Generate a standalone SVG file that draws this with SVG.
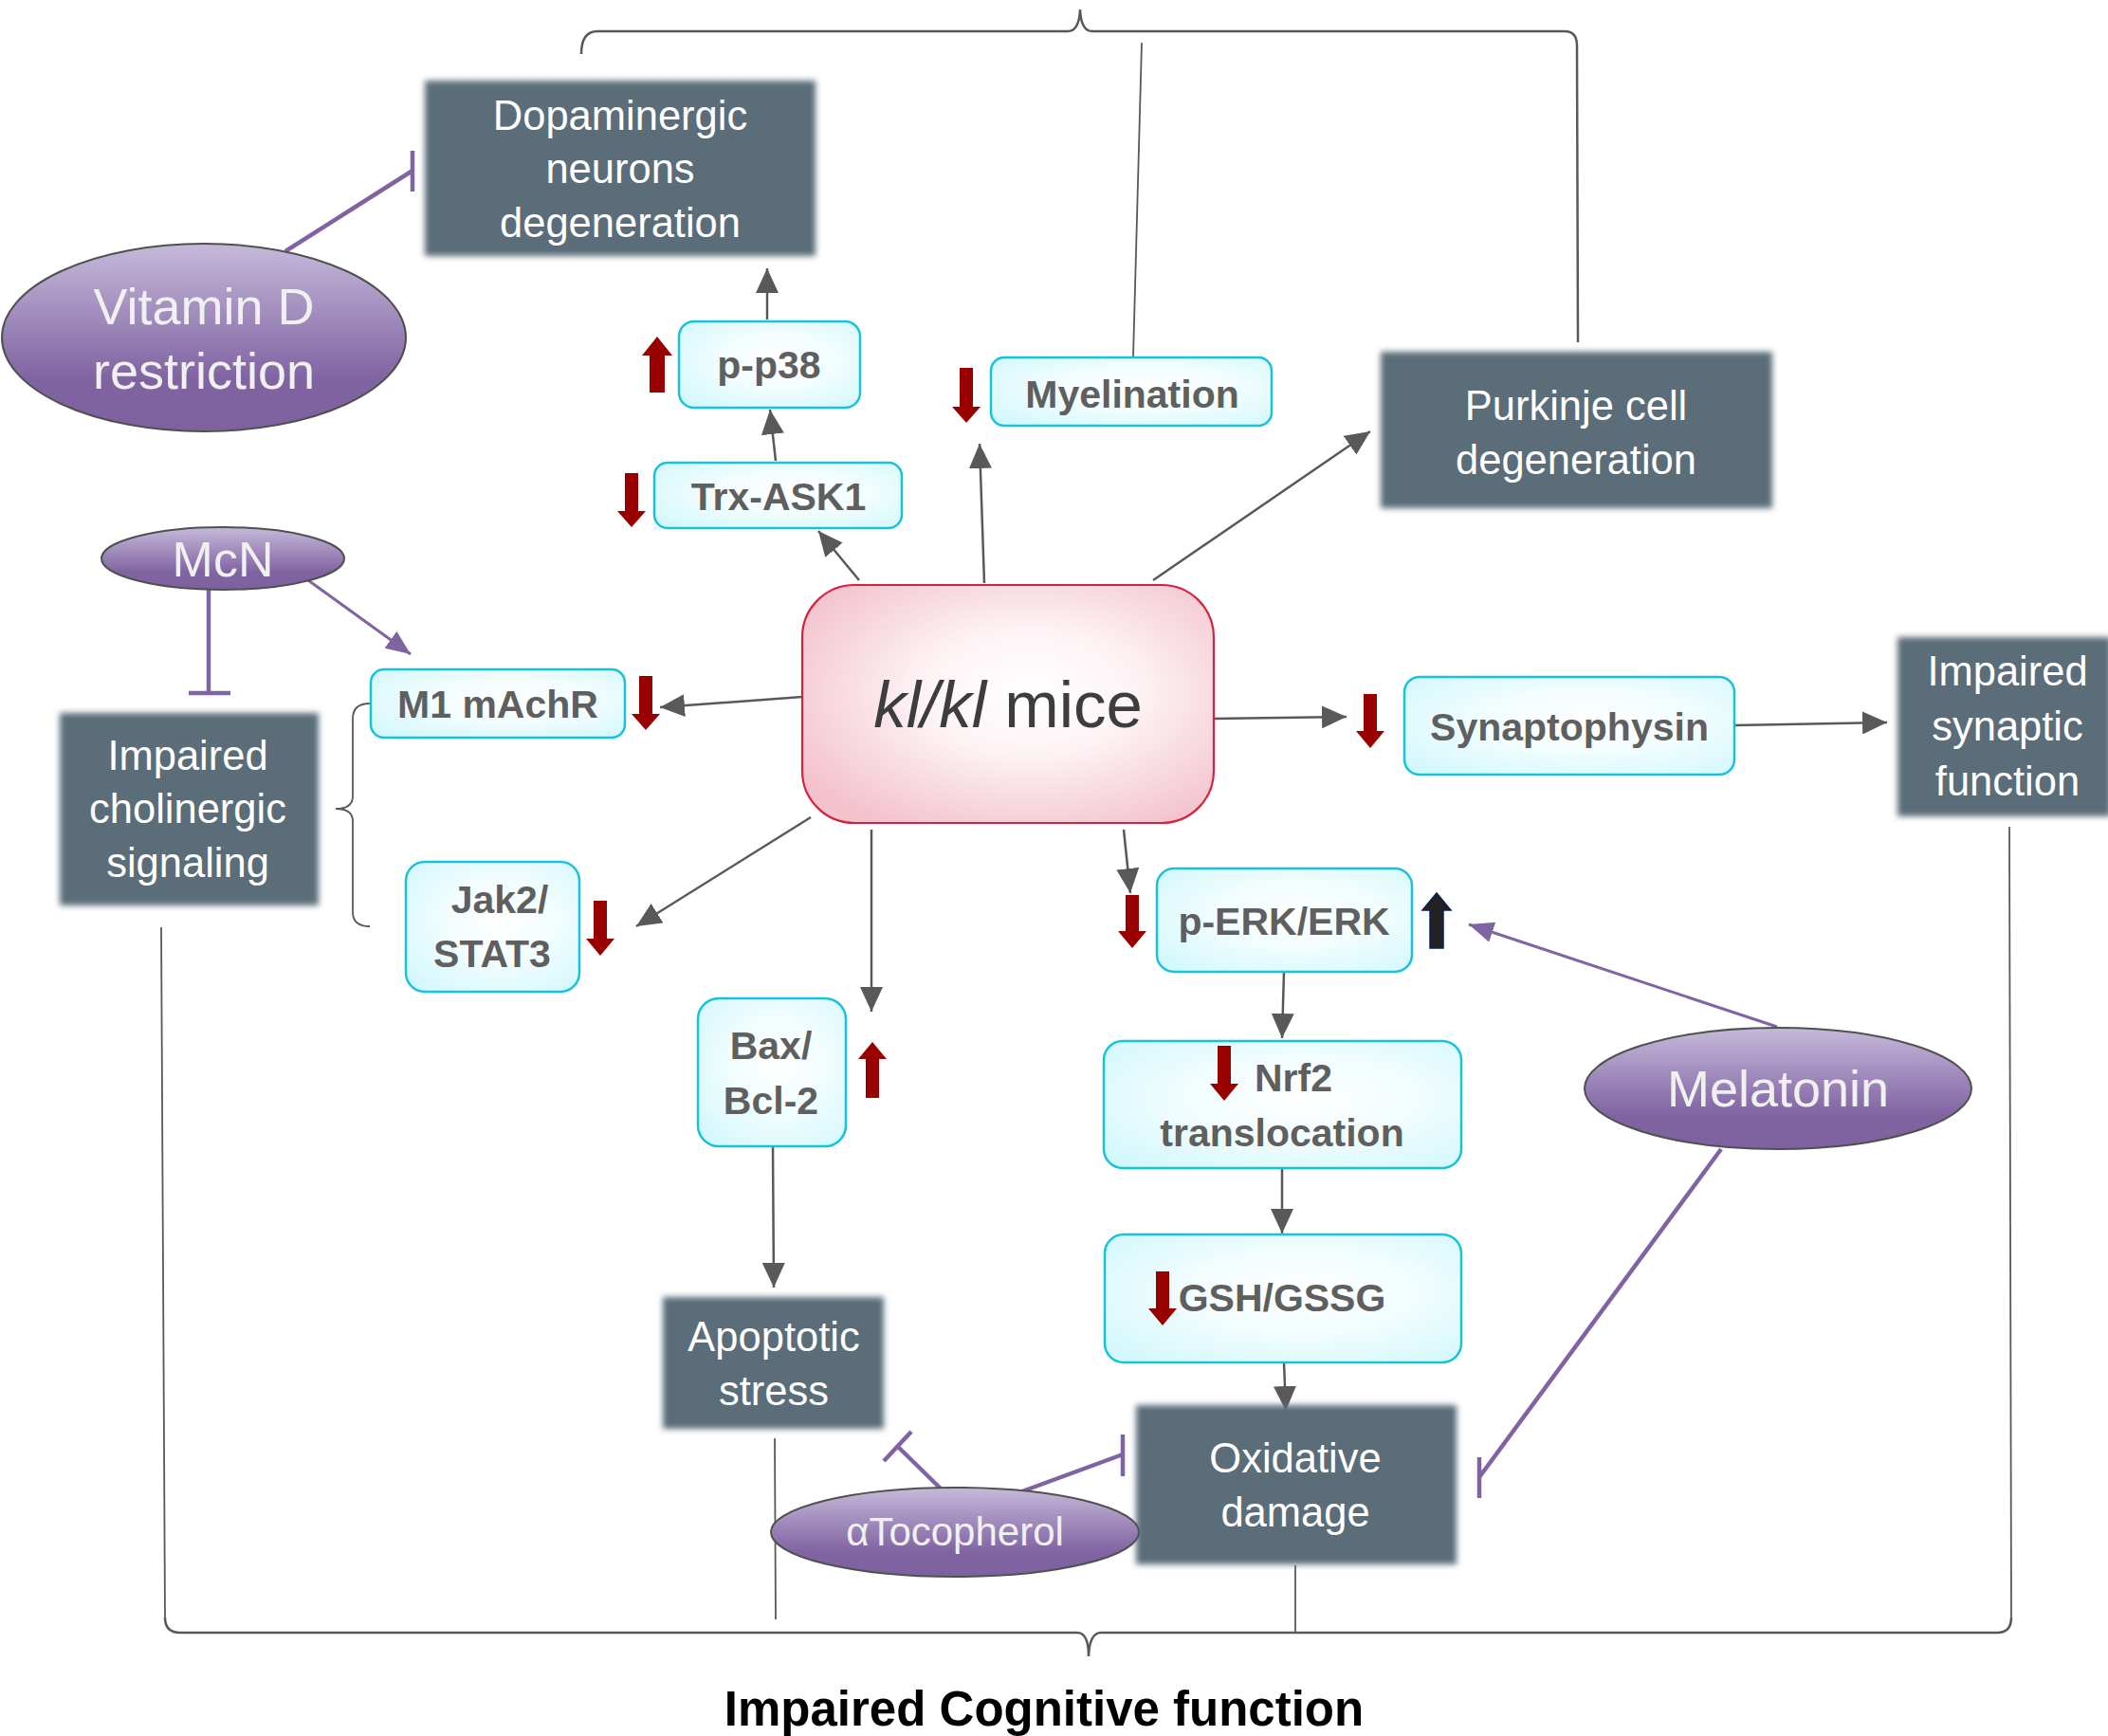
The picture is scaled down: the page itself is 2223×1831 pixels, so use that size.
<svg xmlns="http://www.w3.org/2000/svg" width="2223" height="1831" viewBox="0 0 2223 1831">
<defs>
<style>
.dark{fill:#5a6d79;filter:url(#soft)}
.dt{font-family:"Liberation Sans",Arial,sans-serif;font-size:43.5px;fill:#ffffff;text-anchor:middle}
.cy{fill:url(#cyg);stroke:#16c4da;stroke-width:2.5}
.ct{font-family:"Liberation Sans",Arial,sans-serif;font-weight:bold;font-size:41px;fill:#5f5f5f;text-anchor:middle}
.el{fill:url(#pug);stroke:#505050;stroke-width:2}
.et{font-family:"Liberation Sans",Arial,sans-serif;fill:#f0f0f0;text-anchor:middle}
.con{stroke:#595959;stroke-width:2.5;fill:none;marker-end:url(#ah)}
.br{stroke:#595959;fill:none}
.pa{stroke:#8064a2;stroke-width:3;fill:none;marker-end:url(#ph)}
.pi{stroke:#8064a2;stroke-width:4.5;fill:none}
.red{fill:#990000}
</style>
<filter id="soft" x="-5%" y="-5%" width="110%" height="110%"><feGaussianBlur stdDeviation="3"/></filter>
<radialGradient id="cyg" cx="0.55" cy="0.45" r="0.7"><stop offset="0" stop-color="#ffffff"/><stop offset="0.45" stop-color="#f2fdfe"/><stop offset="1" stop-color="#d3f8fc"/></radialGradient>
<radialGradient id="pkg" cx="0.55" cy="0.45" r="0.65"><stop offset="0" stop-color="#ffffff"/><stop offset="0.4" stop-color="#fdf3f5"/><stop offset="1" stop-color="#f3c2cd"/></radialGradient>
<linearGradient id="pug" x1="0" y1="0" x2="0" y2="1"><stop offset="0" stop-color="#c6b9da"/><stop offset="0.72" stop-color="#8064a2"/><stop offset="1" stop-color="#7e62a0"/></linearGradient>
<marker id="ah" viewBox="0 0 26 24" refX="26" refY="12" markerWidth="26" markerHeight="24" orient="auto" markerUnits="userSpaceOnUse"><path d="M0,0 L26,12 L0,24 Z" fill="#595959"/></marker>
<marker id="ph" viewBox="0 0 26 22" refX="26" refY="11" markerWidth="26" markerHeight="22" orient="auto" markerUnits="userSpaceOnUse"><path d="M0,0 L26,11 L0,22 Z" fill="#8064a2"/></marker>
</defs>
<rect width="2223" height="1831" fill="#ffffff"/>

<g id="connectors">
<path class="br" stroke-width="2.5" d="M613,57 Q613,33 630,33 H1126 Q1138,33 1139,10 Q1140,33 1152,33 H1650 Q1663,33 1663,48 L1664,361"/>
<path class="br" stroke-width="1.8" d="M1195,377 L1204,45"/>
<path class="br" stroke-width="1.8" d="M390,742 Q372,742 372,758 V840 Q372,853 354,853 Q372,853 372,866 V962 Q372,977 390,977"/>
<path class="br" stroke-width="1.8" d="M170,978 L174,1706"/>
<path class="br" stroke-width="2.5" d="M174,1706 Q174,1722 190,1722 H1136 Q1148,1722 1148,1747 Q1149,1722 1161,1722 H2106 Q2121,1722 2121,1706"/>
<path class="br" stroke-width="1.8" d="M2121,1706 L2119,872"/>
<path class="br" stroke-width="1.8" d="M817,1517 L818,1708"/>
<path class="br" stroke-width="1.8" d="M1366,1651 L1366,1722"/>

<line class="con" x1="809" y1="337" x2="809" y2="283"/>
<line class="con" x1="818" y1="486" x2="812" y2="432"/>
<line class="con" x1="906" y1="612" x2="863" y2="560"/>
<line class="con" x1="1038" y1="615" x2="1033" y2="468"/>
<line class="con" x1="1216" y1="612" x2="1445" y2="455"/>
<line class="con" x1="846" y1="735" x2="696" y2="746"/>
<line class="con" x1="855" y1="862" x2="671" y2="977"/>
<line class="con" x1="919" y1="875" x2="919" y2="1067"/>
<line class="con" x1="815" y1="1209" x2="816" y2="1358"/>
<line class="con" x1="1280" y1="758" x2="1420" y2="756"/>
<line class="con" x1="1829" y1="765" x2="1990" y2="762"/>
<line class="con" x1="1185" y1="875" x2="1192" y2="942"/>
<line class="con" x1="1354" y1="1025" x2="1352" y2="1095"/>
<line class="con" x1="1352" y1="1232" x2="1352" y2="1301"/>
<line class="con" x1="1354" y1="1437" x2="1356" y2="1488"/>

<line class="pa" x1="325" y1="612" x2="433" y2="690"/>
<line class="pa" x1="1874" y1="1083" x2="1549" y2="975"/>
<line class="pi" x1="301" y1="265" x2="435" y2="180"/>
<line class="pi" x1="435" y1="159" x2="435" y2="202"/>
<line class="pi" x1="220" y1="622" x2="220" y2="731"/>
<line class="pi" x1="199" y1="731" x2="243" y2="731"/>
<line class="pi" stroke-width="3.5" x1="1815" y1="1212" x2="1560" y2="1558"/>
<line class="pi" stroke-width="3.5" x1="1560" y1="1537" x2="1560" y2="1580"/>
<line class="pi" x1="993" y1="1571" x2="947" y2="1526"/>
<line class="pi" x1="961" y1="1510" x2="932" y2="1541"/>
<line class="pi" x1="1078" y1="1573" x2="1184" y2="1534"/>
<line class="pi" x1="1184" y1="1513" x2="1184" y2="1557"/>
</g>

<g id="dopaminergic">
<rect class="dark" x="448" y="85" width="412" height="185"/>
<text class="dt" x="654" y="137">Dopaminergic</text>
<text class="dt" x="654" y="193">neurons</text>
<text class="dt" x="654" y="250">degeneration</text>
</g>

<g id="vitamin-d">
<ellipse class="el" cx="215" cy="356" rx="213" ry="99"/>
<text class="et" font-size="54" x="215" y="342">Vitamin D</text>
<text class="et" font-size="54" x="215" y="410">restriction</text>
</g>

<g id="p-p38">
<rect class="cy" x="716" y="339" width="191" height="91" rx="16"/>
<text class="ct" x="811" y="399">p-p38</text>
<path class="red" d="M685,414 V375 H677 L693,355 L709,375 H701 V414 Z"/>
</g>

<g id="trx-ask1">
<rect class="cy" x="690" y="488" width="261" height="69" rx="14"/>
<text class="ct" x="821" y="538">Trx-ASK1</text>
<path class="red" d="M659,499 H673 V539 H681 L666,556 L651,539 H659 Z"/>
</g>

<g id="myelination">
<rect class="cy" x="1045" y="377" width="296" height="72" rx="14"/>
<text class="ct" font-size="42" x="1194" y="430">Myelination</text>
<path class="red" d="M1012,388 H1026 V429 H1034 L1019,446 L1004,429 H1012 Z"/>
</g>

<g id="purkinje">
<rect class="dark" x="1456" y="371" width="413" height="165"/>
<text class="dt" x="1662" y="443">Purkinje cell</text>
<text class="dt" x="1662" y="500">degeneration</text>
</g>

<g id="klkl-mice">
<rect x="846" y="617" width="434" height="251" rx="55" fill="url(#pkg)" stroke="#d3243f" stroke-width="2.2"/>
<text font-family="'Liberation Sans',Arial,sans-serif" font-size="69" fill="#3d3d3d" text-anchor="middle" x="1063" y="767"><tspan font-style="italic">kl/kl</tspan> mice</text>
</g>

<g id="mcn">
<ellipse class="el" cx="235" cy="589" rx="128" ry="33"/>
<text class="et" font-size="52" x="235" y="608">McN</text>
</g>

<g id="m1-machr">
<rect class="cy" x="391" y="706" width="268" height="72" rx="14"/>
<text class="ct" x="525" y="757">M1 mAchR</text>
<path class="red" d="M674,713 H688 V753 H696 L681,770 L666,753 H674 Z"/>
</g>

<g id="cholinergic">
<rect class="dark" x="63" y="752" width="273" height="203"/>
<text class="dt" x="198" y="812">Impaired</text>
<text class="dt" x="198" y="868">cholinergic</text>
<text class="dt" x="198" y="925">signaling</text>
</g>

<g id="jak2-stat3">
<rect class="cy" x="428" y="909" width="183" height="137" rx="20"/>
<text class="ct" x="527" y="963">Jak2/</text>
<text class="ct" x="519" y="1020">STAT3</text>
<path class="red" d="M626,950 H640 V990 H648 L633,1008 L618,990 H626 Z"/>
</g>

<g id="bax-bcl2">
<rect class="cy" x="736" y="1053" width="156" height="156" rx="22"/>
<text class="ct" x="813" y="1117">Bax/</text>
<text class="ct" x="813" y="1175">Bcl-2</text>
<path class="red" d="M913,1158 V1117 H905 L920,1099 L935,1117 H927 V1158 Z"/>
</g>

<g id="apoptotic">
<rect class="dark" x="699" y="1368" width="233" height="139"/>
<text class="dt" x="816" y="1425">Apoptotic</text>
<text class="dt" x="816" y="1482">stress</text>
</g>

<g id="synaptophysin">
<rect class="cy" x="1481" y="714" width="348" height="103" rx="16"/>
<text class="ct" x="1655" y="781">Synaptophysin</text>
<path class="red" d="M1438,732 H1452 V771 H1460 L1445,789 L1430,771 H1438 Z"/>
</g>

<g id="synaptic">
<rect class="dark" x="2001" y="672" width="225" height="189"/>
<text class="dt" x="2117" y="723">Impaired</text>
<text class="dt" x="2117" y="781">synaptic</text>
<text class="dt" x="2117" y="839">function</text>
</g>

<g id="p-erk">
<rect class="cy" x="1220" y="916" width="269" height="109" rx="18"/>
<text class="ct" x="1354" y="986">p-ERK/ERK</text>
<path class="red" d="M1187,944 H1201 V982 H1209 L1194,1000 L1179,982 H1187 Z"/>
<path d="M1508,1000 V960 H1500 L1515,942 L1530,960 H1522 V1000 Z" fill="#222222" stroke="#0b1f5c" stroke-width="1.5"/>
</g>

<g id="nrf2">
<rect class="cy" x="1164" y="1098" width="377" height="134" rx="20"/>
<text class="ct" x="1364" y="1151">Nrf2</text>
<text class="ct" x="1352" y="1209">translocation</text>
<path class="red" d="M1284,1103 H1298 V1143 H1306 L1291,1161 L1276,1143 H1284 Z"/>
</g>

<g id="gsh-gssg">
<rect class="cy" x="1165" y="1302" width="376" height="135" rx="20"/>
<text class="ct" x="1352" y="1383">GSH/GSSG</text>
<path class="red" d="M1219,1341 H1233 V1380 H1241 L1226,1398 L1211,1380 H1219 Z"/>
</g>

<g id="oxidative">
<rect class="dark" x="1198" y="1482" width="338" height="168"/>
<text class="dt" x="1366" y="1553">Oxidative</text>
<text class="dt" x="1366" y="1610">damage</text>
</g>

<g id="melatonin">
<ellipse class="el" cx="1875" cy="1148" rx="204" ry="64"/>
<text class="et" font-size="54" x="1875" y="1167">Melatonin</text>
</g>

<g id="tocopherol">
<ellipse class="el" cx="1007" cy="1616" rx="194" ry="47"/>
<text class="et" font-size="42" x="1007" y="1630">αTocopherol</text>
</g>

<g id="title">
<text font-family="'Liberation Sans',Arial,sans-serif" font-weight="bold" font-size="51" fill="#000000" text-anchor="middle" x="1101" y="1820">Impaired Cognitive function</text>
</g>
</svg>
